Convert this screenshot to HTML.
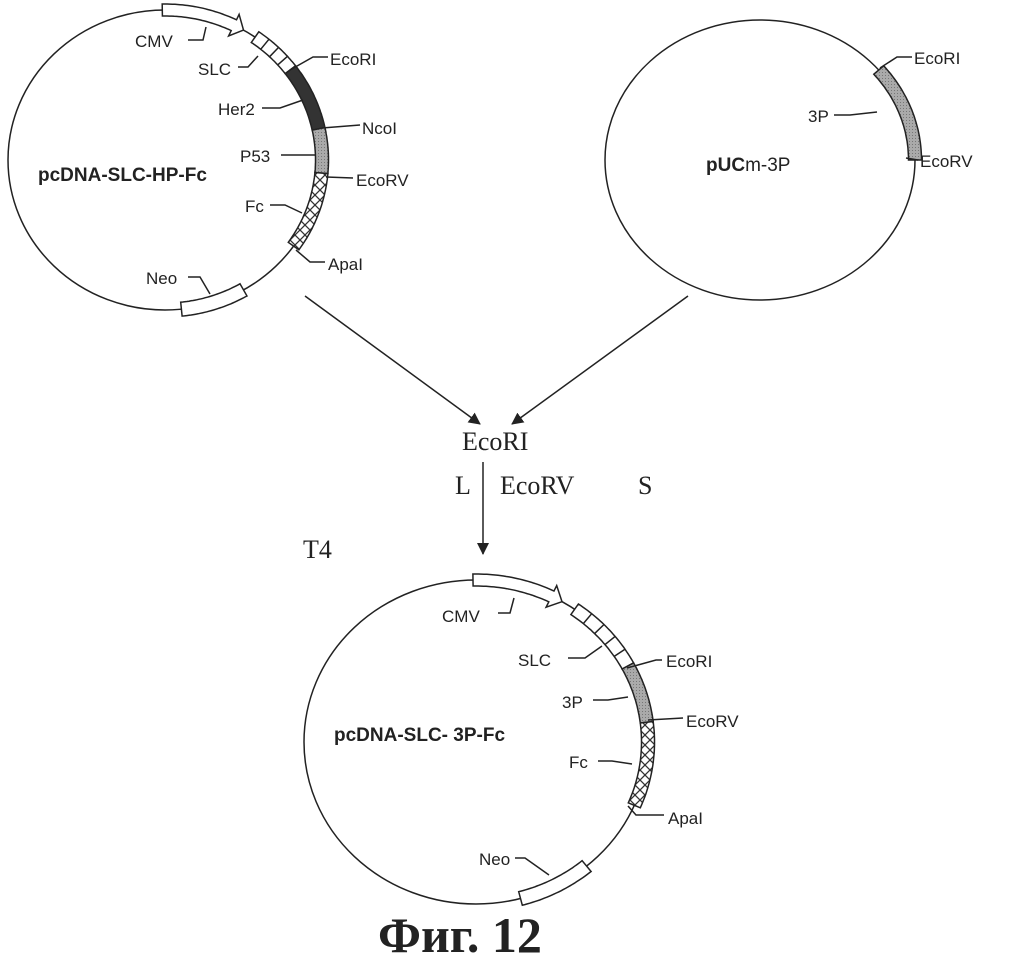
<!DOCTYPE html>
<html><head><meta charset="utf-8"><style>
html,body{margin:0;padding:0;background:#fff}
svg{display:block}
text{font-family:"Liberation Sans",Arial,sans-serif;font-size:17px;fill:#222}
.s{font-family:"Liberation Serif",serif;font-size:26px}
</style></head><body>
<svg id="g" width="1020" height="960" viewBox="0 0 1020 960" xmlns="http://www.w3.org/2000/svg">
<defs>
<pattern id="hx" width="10" height="10" patternUnits="userSpaceOnUse">
<rect width="10" height="10" fill="#fff"/>
<line x1="0" y1="0" x2="10" y2="10" stroke="#333" stroke-width="1.3"/>
<line x1="10" y1="0" x2="0" y2="10" stroke="#333" stroke-width="1.3"/>
</pattern>
<pattern id="gr" width="3" height="3" patternUnits="userSpaceOnUse">
<rect width="3" height="3" fill="#aaa"/><rect width="1" height="1" fill="#777"/>
</pattern>
<marker id="ah" markerWidth="12" markerHeight="12" refX="11" refY="6" orient="auto" markerUnits="userSpaceOnUse">
<path d="M0,0 L12,6 L0,12 Z" fill="#222"/></marker>
</defs>
<g id="c" fill="none" stroke="#222" stroke-width="1.5"></g>
<g fill="none" stroke="#222" stroke-width="1.5">
<line x1="305" y1="296" x2="480" y2="424" marker-end="url(#ah)"/>
<line x1="688" y1="296" x2="512" y2="424" marker-end="url(#ah)"/>
<line x1="483" y1="462" x2="483" y2="554" marker-end="url(#ah)"/>
<polyline points="188,40 203,40 206,27"/>
<polyline points="238,67 248,67 258,56"/>
<polyline points="290,70 313,57 328,57"/>
<polyline points="262,108 280,108 303,100"/>
<polyline points="322,128 360,125"/>
<polyline points="281,155 316,155"/>
<polyline points="326,177 353,178"/>
<polyline points="270,205 285,205 302,213"/>
<polyline points="296,250 310,262 325,262"/>
<polyline points="188,277 200,277 210,294"/>
<polyline points="880,68 897,57 912,57"/>
<polyline points="834,115 850,115 877,112"/>
<polyline points="906,158 918,160"/>
<polyline points="498,613 510,613 514,598"/>
<polyline points="568,658 585,658 602,646"/>
<polyline points="627,668 656,660 662,660"/>
<polyline points="593,700 608,700 628,697"/>
<polyline points="648,720 683,718"/>
<polyline points="598,761 612,761 632,764"/>
<polyline points="628,806 636,815 664,815"/>
<polyline points="515,858 525,858 549,875"/>
</g>
<text x="135" y="47">CMV</text>
<text x="198" y="75">SLC</text>
<text x="330" y="65">EcoRI</text>
<text x="218" y="115">Her2</text>
<text x="362" y="134">NcoI</text>
<text x="240" y="162">P53</text>
<text x="356" y="186">EcoRV</text>
<text x="245" y="212">Fc</text>
<text x="328" y="270">ApaI</text>
<text x="146" y="284">Neo</text>
<text x="38" y="181" style="font-weight:bold;font-size:19px">pcDNA-SLC-HP-Fc</text>
<text x="914" y="64">EcoRI</text>
<text x="808" y="122">3P</text>
<text x="920" y="167">EcoRV</text>
<text x="706" y="171" style="font-size:19px"><tspan font-weight="bold">pUC</tspan>m-3P</text>
<text x="442" y="622">CMV</text>
<text x="518" y="666">SLC</text>
<text x="666" y="667">EcoRI</text>
<text x="562" y="708">3P</text>
<text x="686" y="727">EcoRV</text>
<text x="569" y="768">Fc</text>
<text x="668" y="824">ApaI</text>
<text x="479" y="865">Neo</text>
<text x="334" y="741" style="font-weight:bold;font-size:19px">pcDNA-SLC- 3P-Fc</text>
<text class="s" x="462" y="450">EcoRI</text>
<text class="s" x="455" y="494">L</text>
<text class="s" x="500" y="494">EcoRV</text>
<text class="s" x="638" y="494">S</text>
<text class="s" x="303" y="558">T4</text>
<text x="378" y="952" style="font-family:'Liberation Serif',serif;font-weight:bold;font-size:50px">Фиг. 12</text>
</svg>
<script>
var NS="http://www.w3.org/2000/svg",g=document.getElementById('c');
function el(t,a){var e=document.createElementNS(NS,t);for(var k in a)e.setAttribute(k,a[k]);g.appendChild(e);return e;}
function pt(cx,cy,rx,ry,a,o){a=a*Math.PI/180;return [(cx+(rx+o)*Math.cos(a)).toFixed(1),(cy+(ry+o)*Math.sin(a)).toFixed(1)];}
function arcPts(C,a1,a2,o){var p=[],n=30;for(var i=0;i<=n;i++){p.push(pt(C[0],C[1],C[2],C[3],a1+(a2-a1)*i/n,o).join(','));}return p;}
function band(C,a1,a2,fill,w,div){w=w||13;var o=arcPts(C,a1,a2,w/2),i=arcPts(C,a2,a1,-w/2);
el('path',{d:'M'+o.join(' L')+' L'+i.join(' L')+' Z',fill:fill});
if(div){for(var a=a1+div;a<a2-0.5;a+=div){var p=pt(C[0],C[1],C[2],C[3],a,w/2),q=pt(C[0],C[1],C[2],C[3],a,-w/2);el('line',{x1:p[0],y1:p[1],x2:q[0],y2:q[1]});}}}
function arrow(C,a1,a2){var w=12,o=arcPts(C,a1,a2-4,w/2),i=arcPts(C,a2-4,a1,-w/2);
var h1=pt(C[0],C[1],C[2],C[3],a2-4,w),t=pt(C[0],C[1],C[2],C[3],a2,0),h2=pt(C[0],C[1],C[2],C[3],a2-4,-w);
el('path',{d:'M'+o.join(' L')+' L'+h1.join(',')+' L'+t.join(',')+' L'+h2.join(',')+' L'+i.join(' L')+' Z',fill:'#fff'});}
var C1=[165,160,157,150],C2=[760,160,155,140],C3=[476,742,172,162];
[C1,C2,C3].forEach(function(C){el('ellipse',{cx:C[0],cy:C[1],rx:C[2],ry:C[3]});});
arrow(C1,-91,-60);band(C1,-55,-37,'#fff',13,4.5);band(C1,-37,-12,'#333');band(C1,-12,5,'url(#gr)');band(C1,5,35,'url(#hx)');band(C1,60,84,'#fff',14);
band(C2,-40,0,'url(#gr)');
arrow(C3,-91,-60);band(C3,-55,-28,'#fff',13,5.4);band(C3,-28,-7,'url(#gr)');band(C3,-7,23,'url(#hx)');band(C3,50,75,'#fff',14);
</script>
</body></html>
